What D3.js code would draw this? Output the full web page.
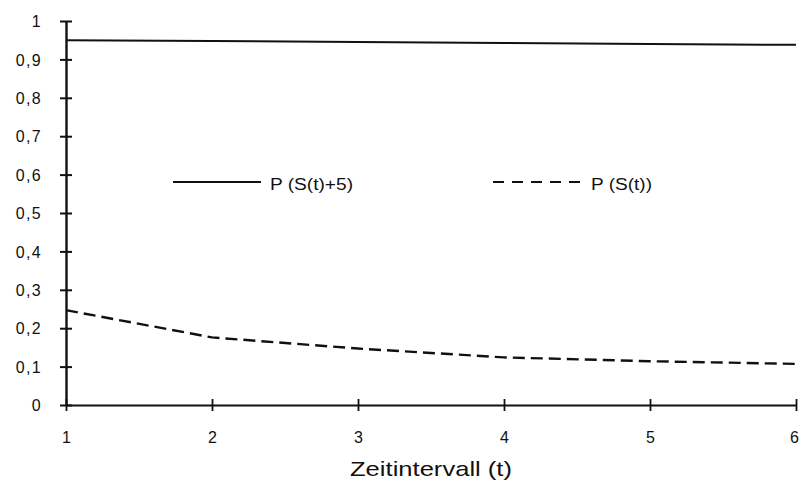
<!DOCTYPE html>
<html>
<head>
<meta charset="utf-8">
<script src="https://cdn.jsdelivr.net/npm/d3@7"></script>
<style>
  body { margin: 0; background: #fff; }
  text { font-family: "Liberation Sans", Arial, sans-serif; fill: #111; }
</style>
</head>
<body>
<script>
var intervals = [1, 2, 3, 4, 5, 6];
var pPlus5 = [0.950, 0.948, 0.945, 0.943, 0.940, 0.938];
var pS = [0.247, 0.176, 0.147, 0.124, 0.114, 0.107];
var yTicks = [0, 0.1, 0.2, 0.3, 0.4, 0.5, 0.6, 0.7, 0.8, 0.9, 1];
var seriesNames = ["P (S(t)+5)", "P (S(t))"];

var width = 799, height = 480;

var svg = d3.select("body").append("svg")
    .attr("width", width)
    .attr("height", height);

var x = d3.scaleLinear().domain([1, 6]).range([66, 796]);
var y = d3.scaleLinear().domain([0, 1]).range([405, 21]);

var fmt = function(d) { return d === 0 || d === 1 ? String(d) : String(d).replace(".", ","); };

// y axis
var yAxis = svg.append("g")
    .attr("transform", "translate(" + x(1) + ",0)")
    .call(d3.axisLeft(y).tickValues(yTicks).tickSize(0).tickPadding(24).tickFormat(fmt));
yAxis.select(".domain").attr("stroke", "#111").attr("stroke-width", 2.4);
yAxis.selectAll(".tick text")
    .attr("font-size", 16).attr("letter-spacing", 1.3).attr("dy", "0.35em");
yAxis.selectAll(".tick").append("line")
    .attr("x1", -6).attr("x2", 6)
    .attr("stroke", "#111").attr("stroke-width", 2);

// x axis
var xAxis = svg.append("g")
    .attr("transform", "translate(0," + y(0) + ")")
    .call(d3.axisBottom(x).tickValues(intervals).tickSize(0).tickPadding(38).tickFormat(d3.format("d")));
xAxis.select(".domain").attr("stroke", "#111").attr("stroke-width", 2);
xAxis.selectAll(".tick text").attr("font-size", 16).attr("dy", "0");
xAxis.selectAll(".tick").append("line")
    .attr("y1", -6).attr("y2", 6)
    .attr("stroke", "#111").attr("stroke-width", 1.8);
xAxis.selectAll(".tick text").filter(function(d) { return d === 6; }).attr("dx", -2);

svg.append("text")
    .attr("x", 431).attr("y", 476)
    .attr("text-anchor", "middle")
    .attr("font-size", 21)
    .attr("textLength", 162).attr("lengthAdjust", "spacingAndGlyphs")
    .text("Zeitintervall (t)");

// lines
var line = function(vals) {
  return d3.line()
    .x(function(d, i) { return x(intervals[i]); })
    .y(function(d) { return y(d); })(vals);
};

svg.append("path")
    .attr("d", line(pPlus5))
    .attr("fill", "none").attr("stroke", "#111").attr("stroke-width", 2);

svg.append("path")
    .attr("d", line(pS))
    .attr("fill", "none").attr("stroke", "#111").attr("stroke-width", 2.4)
    .attr("stroke-dasharray", "12,6");

// legend
var legY = 182;
svg.append("line")
    .attr("x1", 173).attr("x2", 261).attr("y1", legY).attr("y2", legY)
    .attr("stroke", "#111").attr("stroke-width", 1.8);
svg.append("text")
    .attr("x", 270).attr("y", legY + 8)
    .attr("font-size", 16)
    .attr("textLength", 83).attr("lengthAdjust", "spacingAndGlyphs")
    .text(seriesNames[0]);

svg.append("line")
    .attr("x1", 493).attr("x2", 584).attr("y1", legY).attr("y2", legY)
    .attr("stroke", "#111").attr("stroke-width", 1.8)
    .attr("stroke-dasharray", "11,8");
svg.append("text")
    .attr("x", 591).attr("y", legY + 8)
    .attr("font-size", 16)
    .attr("textLength", 61).attr("lengthAdjust", "spacingAndGlyphs")
    .text(seriesNames[1]);
</script>
</body>
</html>
